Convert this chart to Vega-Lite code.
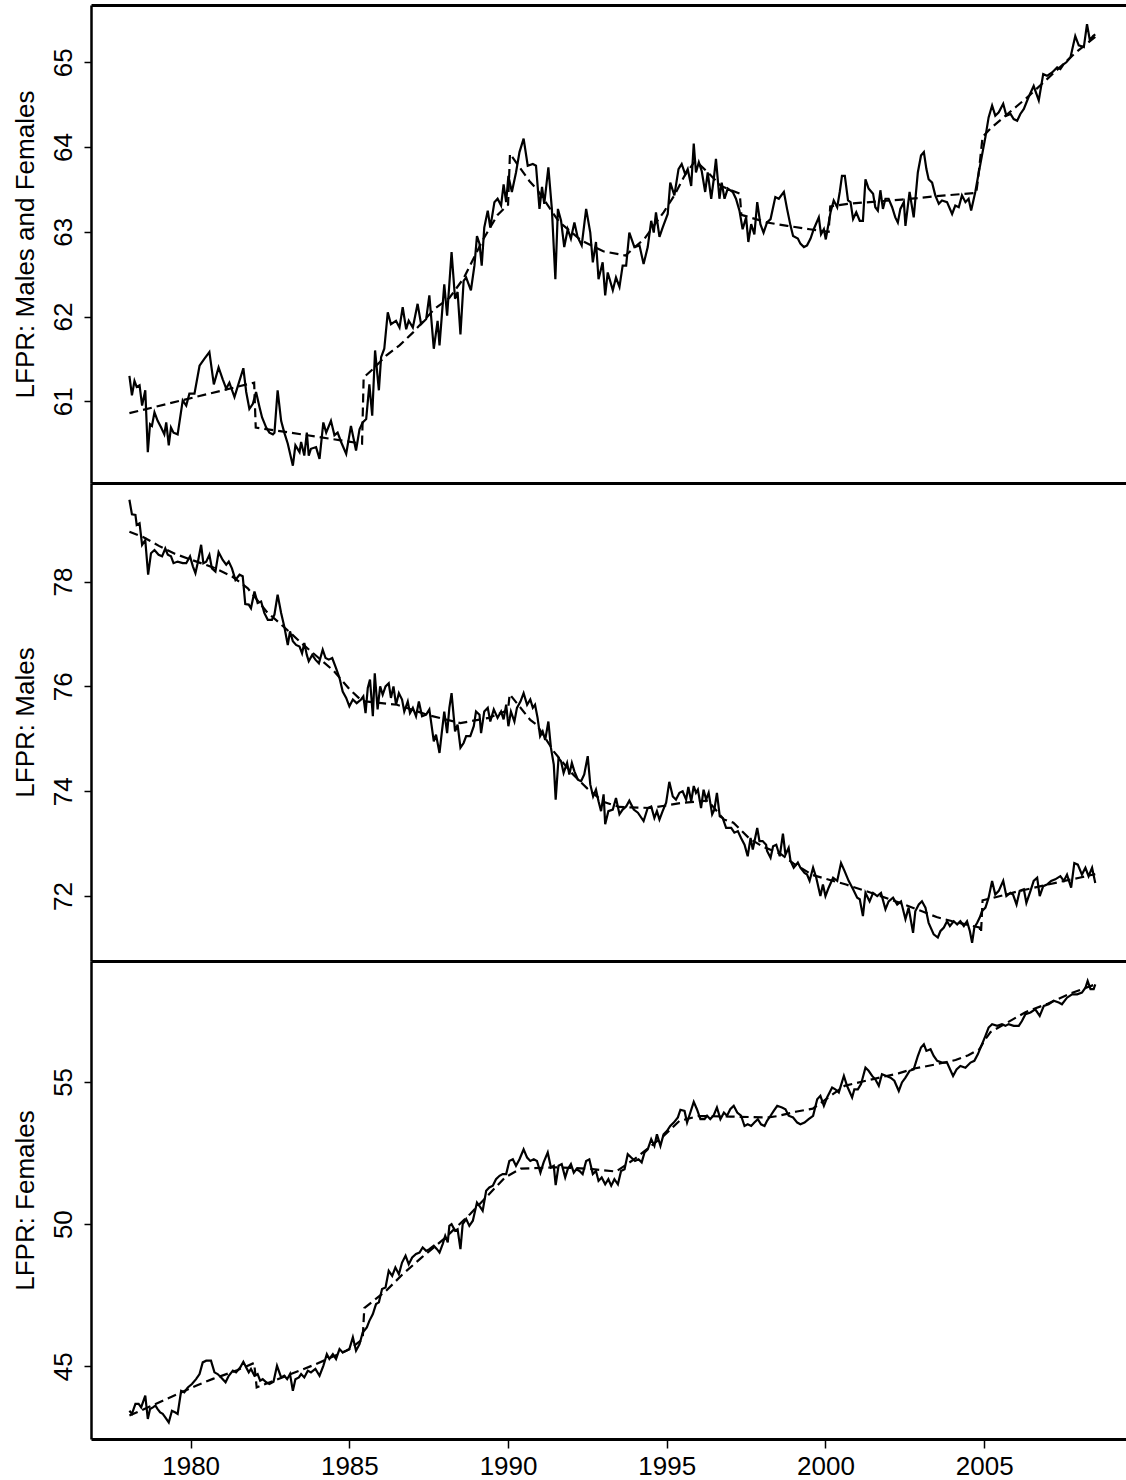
{
"$schema": "https://vega.github.io/schema/vega-lite/v6.json",
"background": "white",
"padding": {"left": 12, "top": 5, "right": 0, "bottom": 0},
"spacing": 0,
"bounds": "flush",
"config": {
 "view": {"stroke": null},
 "font": "Liberation Sans",
 "axis": {"domainColor": "#000", "domainWidth": 2.5, "tickColor": "#000", "tickWidth": 1.5, "labelColor": "#000", "labelFont": "Liberation Sans", "labelFontSize": 26, "titleFont": "Liberation Sans", "titleFontSize": 26, "titleFontWeight": "normal", "titleColor": "#000", "grid": false, "format": "d"},
 "axisY": {"labelAngle": -90, "labelAlign": "center", "labelBaseline": "alphabetic", "labelPadding": 13, "tickSize": 7, "titleAngle": -90, "titleX": -58, "titleBaseline": "alphabetic", "titleAlign": "center"},
 "axisX": {"tickSize": 9, "labelPadding": 5, "domainWidth": 3}
},
"datasets": {
"p1a": [
{"t":1978.07,"v":61.30},{"t":1978.15,"v":61.07},{"t":1978.23,"v":61.24},{"t":1978.30,"v":61.17},{"t":1978.39,"v":61.19},{"t":1978.47,"v":60.95},{"t":1978.57,"v":61.13},{"t":1978.65,"v":60.40},{"t":1978.72,"v":60.73},{"t":1978.78,"v":60.71},{"t":1978.86,"v":60.87},{"t":1978.96,"v":60.77},{"t":1979.07,"v":60.69},{"t":1979.17,"v":60.61},{"t":1979.23,"v":60.75},{"t":1979.31,"v":60.48},{"t":1979.38,"v":60.69},{"t":1979.46,"v":60.63},{"t":1979.59,"v":60.61},{"t":1979.75,"v":61.01},{"t":1979.86,"v":60.95},{"t":1979.96,"v":61.09},{"t":1980.12,"v":61.09},{"t":1980.28,"v":61.42},{"t":1980.43,"v":61.50},{"t":1980.59,"v":61.58},{"t":1980.73,"v":61.20},{"t":1980.88,"v":61.40},{"t":1981.01,"v":61.26},{"t":1981.12,"v":61.15},{"t":1981.22,"v":61.22},{"t":1981.38,"v":61.05},{"t":1981.52,"v":61.22},{"t":1981.66,"v":61.39},{"t":1981.75,"v":61.11},{"t":1981.85,"v":60.91},{"t":1981.96,"v":60.97},{"t":1982.06,"v":61.11},{"t":1982.17,"v":60.93},{"t":1982.25,"v":60.81},{"t":1982.38,"v":60.69},{"t":1982.48,"v":60.63},{"t":1982.59,"v":60.61},{"t":1982.64,"v":60.63},{"t":1982.74,"v":61.13},{"t":1982.85,"v":60.77},{"t":1982.95,"v":60.63},{"t":1983.06,"v":60.50},{"t":1983.22,"v":60.24},{"t":1983.30,"v":60.48},{"t":1983.43,"v":60.40},{"t":1983.48,"v":60.52},{"t":1983.58,"v":60.36},{"t":1983.66,"v":60.63},{"t":1983.72,"v":60.36},{"t":1983.79,"v":60.44},{"t":1983.95,"v":60.46},{"t":1984.06,"v":60.32},{"t":1984.18,"v":60.75},{"t":1984.27,"v":60.63},{"t":1984.42,"v":60.77},{"t":1984.53,"v":60.60},{"t":1984.63,"v":60.63},{"t":1984.74,"v":60.52},{"t":1984.90,"v":60.38},{"t":1985.05,"v":60.71},{"t":1985.21,"v":60.42},{"t":1985.32,"v":60.67},{"t":1985.42,"v":60.75},{"t":1985.53,"v":60.79},{"t":1985.63,"v":61.20},{"t":1985.72,"v":60.83},{"t":1985.81,"v":61.60},{"t":1985.93,"v":61.13},{"t":1986.00,"v":61.52},{"t":1986.10,"v":61.62},{"t":1986.21,"v":62.05},{"t":1986.31,"v":61.91},{"t":1986.47,"v":61.95},{"t":1986.58,"v":61.87},{"t":1986.68,"v":62.11},{"t":1986.79,"v":61.85},{"t":1986.87,"v":61.95},{"t":1987.00,"v":61.87},{"t":1987.15,"v":62.15},{"t":1987.26,"v":61.91},{"t":1987.42,"v":61.97},{"t":1987.52,"v":62.25},{"t":1987.66,"v":61.62},{"t":1987.78,"v":61.95},{"t":1987.84,"v":61.66},{"t":1987.99,"v":62.38},{"t":1988.08,"v":62.01},{"t":1988.22,"v":62.76},{"t":1988.33,"v":62.21},{"t":1988.41,"v":62.29},{"t":1988.50,"v":61.79},{"t":1988.60,"v":62.42},{"t":1988.68,"v":62.46},{"t":1988.83,"v":62.31},{"t":1988.94,"v":62.60},{"t":1989.02,"v":62.95},{"t":1989.10,"v":62.86},{"t":1989.17,"v":62.60},{"t":1989.25,"v":63.05},{"t":1989.36,"v":63.25},{"t":1989.44,"v":63.05},{"t":1989.57,"v":63.35},{"t":1989.67,"v":63.39},{"t":1989.78,"v":63.31},{"t":1989.86,"v":63.56},{"t":1989.94,"v":63.35},{"t":1990.01,"v":63.66},{"t":1990.12,"v":63.47},{"t":1990.25,"v":63.70},{"t":1990.36,"v":63.94},{"t":1990.49,"v":64.10},{"t":1990.62,"v":63.78},{"t":1990.78,"v":63.80},{"t":1990.88,"v":63.78},{"t":1990.99,"v":63.27},{"t":1991.07,"v":63.53},{"t":1991.14,"v":63.33},{"t":1991.27,"v":63.76},{"t":1991.38,"v":63.27},{"t":1991.49,"v":62.44},{"t":1991.57,"v":63.27},{"t":1991.67,"v":63.13},{"t":1991.77,"v":62.82},{"t":1991.88,"v":63.03},{"t":1991.98,"v":62.92},{"t":1992.09,"v":63.11},{"t":1992.19,"v":62.94},{"t":1992.32,"v":62.84},{"t":1992.46,"v":63.27},{"t":1992.59,"v":62.99},{"t":1992.67,"v":62.64},{"t":1992.77,"v":62.88},{"t":1992.85,"v":62.44},{"t":1992.98,"v":62.64},{"t":1993.06,"v":62.25},{"t":1993.14,"v":62.52},{"t":1993.30,"v":62.31},{"t":1993.40,"v":62.46},{"t":1993.51,"v":62.35},{"t":1993.61,"v":62.60},{"t":1993.72,"v":62.60},{"t":1993.82,"v":62.99},{"t":1993.98,"v":62.82},{"t":1994.14,"v":62.84},{"t":1994.27,"v":62.62},{"t":1994.40,"v":62.82},{"t":1994.51,"v":63.13},{"t":1994.59,"v":62.99},{"t":1994.66,"v":63.23},{"t":1994.77,"v":62.94},{"t":1994.87,"v":63.05},{"t":1995.03,"v":63.21},{"t":1995.11,"v":63.58},{"t":1995.24,"v":63.43},{"t":1995.37,"v":63.74},{"t":1995.47,"v":63.80},{"t":1995.58,"v":63.68},{"t":1995.66,"v":63.74},{"t":1995.77,"v":63.54},{"t":1995.85,"v":64.04},{"t":1995.92,"v":63.70},{"t":1996.01,"v":63.82},{"t":1996.10,"v":63.72},{"t":1996.21,"v":63.47},{"t":1996.29,"v":63.70},{"t":1996.40,"v":63.39},{"t":1996.48,"v":63.62},{"t":1996.55,"v":63.86},{"t":1996.66,"v":63.39},{"t":1996.73,"v":63.58},{"t":1996.82,"v":63.39},{"t":1996.92,"v":63.51},{"t":1997.08,"v":63.47},{"t":1997.18,"v":63.39},{"t":1997.29,"v":63.25},{"t":1997.39,"v":63.03},{"t":1997.50,"v":63.17},{"t":1997.57,"v":62.88},{"t":1997.66,"v":63.09},{"t":1997.76,"v":62.97},{"t":1997.85,"v":63.35},{"t":1997.95,"v":63.09},{"t":1998.05,"v":62.99},{"t":1998.16,"v":63.11},{"t":1998.27,"v":63.15},{"t":1998.42,"v":63.41},{"t":1998.53,"v":63.39},{"t":1998.69,"v":63.47},{"t":1998.79,"v":63.27},{"t":1998.90,"v":63.07},{"t":1998.98,"v":62.95},{"t":1999.13,"v":62.92},{"t":1999.21,"v":62.86},{"t":1999.32,"v":62.82},{"t":1999.42,"v":62.84},{"t":1999.53,"v":62.92},{"t":1999.63,"v":63.03},{"t":1999.79,"v":63.17},{"t":1999.86,"v":62.97},{"t":1999.95,"v":63.03},{"t":2000.01,"v":62.91},{"t":2000.16,"v":63.23},{"t":2000.26,"v":63.37},{"t":2000.37,"v":63.29},{"t":2000.45,"v":63.47},{"t":2000.52,"v":63.66},{"t":2000.61,"v":63.66},{"t":2000.71,"v":63.37},{"t":2000.79,"v":63.35},{"t":2000.87,"v":63.15},{"t":2000.97,"v":63.23},{"t":2001.08,"v":63.13},{"t":2001.18,"v":63.13},{"t":2001.26,"v":63.62},{"t":2001.36,"v":63.51},{"t":2001.50,"v":63.45},{"t":2001.57,"v":63.29},{"t":2001.65,"v":63.25},{"t":2001.73,"v":63.49},{"t":2001.81,"v":63.27},{"t":2001.89,"v":63.39},{"t":2001.99,"v":63.39},{"t":2002.10,"v":63.29},{"t":2002.20,"v":63.17},{"t":2002.28,"v":63.11},{"t":2002.36,"v":63.27},{"t":2002.47,"v":63.35},{"t":2002.52,"v":63.07},{"t":2002.65,"v":63.47},{"t":2002.78,"v":63.17},{"t":2002.91,"v":63.70},{"t":2003.01,"v":63.90},{"t":2003.10,"v":63.94},{"t":2003.18,"v":63.74},{"t":2003.25,"v":63.62},{"t":2003.36,"v":63.58},{"t":2003.46,"v":63.43},{"t":2003.57,"v":63.33},{"t":2003.67,"v":63.37},{"t":2003.83,"v":63.35},{"t":2003.99,"v":63.21},{"t":2004.09,"v":63.31},{"t":2004.20,"v":63.29},{"t":2004.30,"v":63.43},{"t":2004.41,"v":63.35},{"t":2004.51,"v":63.39},{"t":2004.59,"v":63.25},{"t":2004.72,"v":63.47},{"t":2004.83,"v":63.70},{"t":2004.93,"v":63.90},{"t":2005.04,"v":64.12},{"t":2005.14,"v":64.35},{"t":2005.25,"v":64.49},{"t":2005.35,"v":64.37},{"t":2005.46,"v":64.41},{"t":2005.60,"v":64.51},{"t":2005.70,"v":64.37},{"t":2005.83,"v":64.39},{"t":2005.93,"v":64.33},{"t":2006.04,"v":64.31},{"t":2006.14,"v":64.39},{"t":2006.25,"v":64.45},{"t":2006.40,"v":64.59},{"t":2006.56,"v":64.72},{"t":2006.72,"v":64.55},{"t":2006.86,"v":64.86},{"t":2006.98,"v":64.84},{"t":2007.14,"v":64.88},{"t":2007.30,"v":64.94},{"t":2007.40,"v":64.92},{"t":2007.51,"v":64.98},{"t":2007.59,"v":65.00},{"t":2007.72,"v":65.06},{"t":2007.87,"v":65.31},{"t":2007.98,"v":65.20},{"t":2008.14,"v":65.18},{"t":2008.24,"v":65.45},{"t":2008.33,"v":65.26},{"t":2008.43,"v":65.31},{"t":2008.50,"v":65.33}
],
"p1t": [
{"t":1978.07,"v":60.86},{"t":1982.0,"v":61.22},{"t":1982.05,"v":60.69},{"t":1983.5,"v":60.61},{"t":1985.4,"v":60.50},{"t":1985.45,"v":61.28},{"t":1985.74,"v":61.38},{"t":1986.16,"v":61.54},{"t":1986.58,"v":61.66},{"t":1987.0,"v":61.81},{"t":1987.68,"v":62.09},{"t":1988.15,"v":62.22},{"t":1988.6,"v":62.45},{"t":1989.2,"v":62.9},{"t":1989.67,"v":63.2},{"t":1990.0,"v":63.32},{"t":1990.06,"v":63.92},{"t":1990.67,"v":63.6},{"t":1990.93,"v":63.49},{"t":1991.6,"v":63.12},{"t":1992.3,"v":62.9},{"t":1993.0,"v":62.77},{"t":1993.7,"v":62.72},{"t":1994.3,"v":62.92},{"t":1994.9,"v":63.23},{"t":1995.24,"v":63.43},{"t":1995.56,"v":63.66},{"t":1995.9,"v":63.84},{"t":1996.3,"v":63.7},{"t":1996.71,"v":63.54},{"t":1997.3,"v":63.45},{"t":1997.35,"v":63.2},{"t":1998.16,"v":63.11},{"t":1998.8,"v":63.07},{"t":1999.5,"v":63.03},{"t":2000.1,"v":63.0},{"t":2000.15,"v":63.3},{"t":2000.7,"v":63.33},{"t":2002.4,"v":63.38},{"t":2003.5,"v":63.42},{"t":2004.75,"v":63.46},{"t":2004.8,"v":63.6},{"t":2004.95,"v":64.12},{"t":2005.2,"v":64.22},{"t":2006.4,"v":64.6},{"t":2007.9,"v":65.12},{"t":2008.5,"v":65.3}
],
"p2a": [
{"t":1978.07,"v":79.56},{"t":1978.15,"v":79.28},{"t":1978.26,"v":79.27},{"t":1978.30,"v":79.08},{"t":1978.39,"v":79.11},{"t":1978.47,"v":78.70},{"t":1978.57,"v":78.79},{"t":1978.66,"v":78.13},{"t":1978.75,"v":78.54},{"t":1978.86,"v":78.60},{"t":1978.99,"v":78.51},{"t":1979.10,"v":78.48},{"t":1979.20,"v":78.63},{"t":1979.28,"v":78.51},{"t":1979.38,"v":78.48},{"t":1979.46,"v":78.35},{"t":1979.59,"v":78.38},{"t":1979.75,"v":78.35},{"t":1979.86,"v":78.35},{"t":1979.98,"v":78.48},{"t":1980.07,"v":78.29},{"t":1980.15,"v":78.16},{"t":1980.22,"v":78.35},{"t":1980.33,"v":78.70},{"t":1980.40,"v":78.35},{"t":1980.49,"v":78.38},{"t":1980.59,"v":78.51},{"t":1980.67,"v":78.25},{"t":1980.78,"v":78.19},{"t":1980.88,"v":78.56},{"t":1981.01,"v":78.41},{"t":1981.12,"v":78.32},{"t":1981.20,"v":78.38},{"t":1981.30,"v":78.25},{"t":1981.41,"v":78.03},{"t":1981.54,"v":78.13},{"t":1981.64,"v":78.10},{"t":1981.72,"v":77.57},{"t":1981.83,"v":77.56},{"t":1981.90,"v":77.49},{"t":1982.01,"v":77.81},{"t":1982.11,"v":77.59},{"t":1982.22,"v":77.62},{"t":1982.32,"v":77.40},{"t":1982.43,"v":77.27},{"t":1982.56,"v":77.27},{"t":1982.64,"v":77.37},{"t":1982.74,"v":77.75},{"t":1982.85,"v":77.40},{"t":1982.95,"v":77.14},{"t":1983.06,"v":76.79},{"t":1983.13,"v":77.05},{"t":1983.22,"v":76.86},{"t":1983.32,"v":76.79},{"t":1983.43,"v":76.76},{"t":1983.51,"v":76.63},{"t":1983.58,"v":76.83},{"t":1983.66,"v":76.60},{"t":1983.72,"v":76.48},{"t":1983.83,"v":76.60},{"t":1983.93,"v":76.51},{"t":1984.04,"v":76.44},{"t":1984.16,"v":76.70},{"t":1984.25,"v":76.54},{"t":1984.35,"v":76.51},{"t":1984.46,"v":76.54},{"t":1984.58,"v":76.35},{"t":1984.69,"v":76.16},{"t":1984.79,"v":75.90},{"t":1984.90,"v":75.78},{"t":1985.00,"v":75.62},{"t":1985.11,"v":75.75},{"t":1985.23,"v":75.68},{"t":1985.37,"v":75.75},{"t":1985.44,"v":75.81},{"t":1985.51,"v":75.49},{"t":1985.58,"v":75.97},{"t":1985.65,"v":76.13},{"t":1985.74,"v":75.43},{"t":1985.80,"v":76.25},{"t":1985.89,"v":75.56},{"t":1985.97,"v":76.00},{"t":1986.05,"v":75.84},{"t":1986.14,"v":76.00},{"t":1986.24,"v":76.06},{"t":1986.31,"v":75.78},{"t":1986.39,"v":76.00},{"t":1986.47,"v":75.65},{"t":1986.56,"v":75.87},{"t":1986.66,"v":75.75},{"t":1986.73,"v":75.52},{"t":1986.84,"v":75.71},{"t":1986.91,"v":75.49},{"t":1987.00,"v":75.59},{"t":1987.10,"v":75.43},{"t":1987.19,"v":75.71},{"t":1987.29,"v":75.43},{"t":1987.42,"v":75.46},{"t":1987.52,"v":75.56},{"t":1987.66,"v":74.95},{"t":1987.73,"v":75.08},{"t":1987.84,"v":74.73},{"t":1987.91,"v":75.11},{"t":1987.99,"v":75.52},{"t":1988.08,"v":75.11},{"t":1988.15,"v":75.59},{"t":1988.22,"v":75.87},{"t":1988.33,"v":75.14},{"t":1988.41,"v":75.27},{"t":1988.50,"v":74.83},{"t":1988.60,"v":74.92},{"t":1988.68,"v":75.05},{"t":1988.81,"v":75.05},{"t":1988.92,"v":75.24},{"t":1988.99,"v":75.52},{"t":1989.10,"v":75.46},{"t":1989.15,"v":75.11},{"t":1989.25,"v":75.52},{"t":1989.36,"v":75.59},{"t":1989.44,"v":75.33},{"t":1989.55,"v":75.56},{"t":1989.67,"v":75.40},{"t":1989.78,"v":75.52},{"t":1989.86,"v":75.37},{"t":1989.94,"v":75.65},{"t":1990.01,"v":75.24},{"t":1990.09,"v":75.52},{"t":1990.20,"v":75.33},{"t":1990.28,"v":75.59},{"t":1990.39,"v":75.71},{"t":1990.49,"v":75.87},{"t":1990.60,"v":75.65},{"t":1990.70,"v":75.75},{"t":1990.78,"v":75.59},{"t":1990.85,"v":75.65},{"t":1990.93,"v":75.40},{"t":1991.01,"v":75.05},{"t":1991.09,"v":75.14},{"t":1991.17,"v":74.98},{"t":1991.27,"v":75.33},{"t":1991.35,"v":74.83},{"t":1991.44,"v":74.51},{"t":1991.50,"v":73.84},{"t":1991.59,"v":74.63},{"t":1991.67,"v":74.57},{"t":1991.75,"v":74.35},{"t":1991.86,"v":74.54},{"t":1991.93,"v":74.32},{"t":1992.01,"v":74.54},{"t":1992.09,"v":74.38},{"t":1992.20,"v":74.22},{"t":1992.30,"v":74.19},{"t":1992.40,"v":74.32},{"t":1992.51,"v":74.67},{"t":1992.59,"v":74.13},{"t":1992.68,"v":73.90},{"t":1992.77,"v":74.03},{"t":1992.85,"v":73.81},{"t":1992.93,"v":73.62},{"t":1993.01,"v":73.94},{"t":1993.06,"v":73.37},{"t":1993.16,"v":73.62},{"t":1993.30,"v":73.65},{"t":1993.40,"v":73.87},{"t":1993.51,"v":73.56},{"t":1993.61,"v":73.65},{"t":1993.72,"v":73.71},{"t":1993.82,"v":73.82},{"t":1993.96,"v":73.65},{"t":1994.09,"v":73.59},{"t":1994.27,"v":73.43},{"t":1994.40,"v":73.68},{"t":1994.51,"v":73.71},{"t":1994.61,"v":73.49},{"t":1994.69,"v":73.62},{"t":1994.77,"v":73.46},{"t":1994.87,"v":73.62},{"t":1994.98,"v":73.78},{"t":1995.08,"v":74.18},{"t":1995.19,"v":73.90},{"t":1995.29,"v":73.84},{"t":1995.40,"v":73.97},{"t":1995.50,"v":74.00},{"t":1995.61,"v":73.84},{"t":1995.68,"v":74.08},{"t":1995.77,"v":73.81},{"t":1995.85,"v":74.10},{"t":1995.92,"v":73.97},{"t":1995.98,"v":74.03},{"t":1996.08,"v":73.68},{"t":1996.16,"v":74.03},{"t":1996.24,"v":73.84},{"t":1996.32,"v":73.97},{"t":1996.43,"v":73.56},{"t":1996.50,"v":73.65},{"t":1996.58,"v":73.97},{"t":1996.67,"v":73.52},{"t":1996.76,"v":73.49},{"t":1996.87,"v":73.30},{"t":1997.03,"v":73.30},{"t":1997.13,"v":73.21},{"t":1997.24,"v":73.24},{"t":1997.34,"v":73.11},{"t":1997.45,"v":72.98},{"t":1997.55,"v":72.76},{"t":1997.64,"v":73.11},{"t":1997.71,"v":72.89},{"t":1997.85,"v":73.30},{"t":1997.92,"v":73.05},{"t":1998.02,"v":73.05},{"t":1998.13,"v":72.98},{"t":1998.16,"v":72.86},{"t":1998.27,"v":72.73},{"t":1998.35,"v":72.95},{"t":1998.45,"v":72.98},{"t":1998.56,"v":72.76},{"t":1998.66,"v":73.19},{"t":1998.74,"v":72.79},{"t":1998.84,"v":72.92},{"t":1998.90,"v":72.67},{"t":1999.00,"v":72.54},{"t":1999.13,"v":72.64},{"t":1999.21,"v":72.54},{"t":1999.34,"v":72.44},{"t":1999.42,"v":72.41},{"t":1999.50,"v":72.29},{"t":1999.61,"v":72.54},{"t":1999.71,"v":72.35},{"t":1999.84,"v":72.00},{"t":1999.92,"v":72.22},{"t":2000.00,"v":72.00},{"t":2000.10,"v":72.16},{"t":2000.24,"v":72.35},{"t":2000.37,"v":72.29},{"t":2000.49,"v":72.63},{"t":2000.60,"v":72.48},{"t":2000.73,"v":72.29},{"t":2000.87,"v":72.13},{"t":2001.00,"v":71.97},{"t":2001.08,"v":71.94},{"t":2001.18,"v":71.62},{"t":2001.26,"v":72.06},{"t":2001.39,"v":71.90},{"t":2001.50,"v":72.06},{"t":2001.63,"v":72.00},{"t":2001.75,"v":72.06},{"t":2001.89,"v":71.75},{"t":2001.99,"v":71.90},{"t":2002.13,"v":71.97},{"t":2002.26,"v":71.84},{"t":2002.38,"v":71.90},{"t":2002.52,"v":71.56},{"t":2002.62,"v":71.78},{"t":2002.76,"v":71.30},{"t":2002.83,"v":71.71},{"t":2002.94,"v":71.84},{"t":2003.04,"v":71.90},{"t":2003.15,"v":71.78},{"t":2003.25,"v":71.49},{"t":2003.41,"v":71.27},{"t":2003.54,"v":71.21},{"t":2003.62,"v":71.33},{"t":2003.73,"v":71.40},{"t":2003.83,"v":71.52},{"t":2003.92,"v":71.43},{"t":2004.04,"v":71.52},{"t":2004.15,"v":71.46},{"t":2004.25,"v":71.52},{"t":2004.36,"v":71.43},{"t":2004.46,"v":71.52},{"t":2004.55,"v":71.33},{"t":2004.62,"v":71.11},{"t":2004.69,"v":71.40},{"t":2004.78,"v":71.49},{"t":2004.86,"v":71.59},{"t":2004.93,"v":71.71},{"t":2005.04,"v":71.78},{"t":2005.14,"v":71.97},{"t":2005.25,"v":72.29},{"t":2005.35,"v":72.03},{"t":2005.46,"v":72.10},{"t":2005.60,"v":72.29},{"t":2005.70,"v":72.00},{"t":2005.83,"v":72.06},{"t":2005.91,"v":72.03},{"t":2006.02,"v":71.84},{"t":2006.12,"v":72.10},{"t":2006.25,"v":72.13},{"t":2006.33,"v":71.87},{"t":2006.46,"v":72.10},{"t":2006.56,"v":72.29},{"t":2006.67,"v":72.35},{"t":2006.75,"v":72.00},{"t":2006.86,"v":72.19},{"t":2006.98,"v":72.22},{"t":2007.11,"v":72.29},{"t":2007.24,"v":72.32},{"t":2007.40,"v":72.38},{"t":2007.51,"v":72.29},{"t":2007.61,"v":72.41},{"t":2007.74,"v":72.16},{"t":2007.84,"v":72.63},{"t":2007.95,"v":72.60},{"t":2008.08,"v":72.41},{"t":2008.19,"v":72.54},{"t":2008.29,"v":72.38},{"t":2008.40,"v":72.54},{"t":2008.50,"v":72.25}
],
"p2t": [
{"t":1978.07,"v":78.95},{"t":1978.5,"v":78.85},{"t":1979.0,"v":78.68},{"t":1979.5,"v":78.53},{"t":1980.0,"v":78.42},{"t":1980.7,"v":78.27},{"t":1981.3,"v":78.1},{"t":1981.8,"v":77.87},{"t":1982.4,"v":77.42},{"t":1983.0,"v":77.1},{"t":1983.5,"v":76.82},{"t":1984.0,"v":76.56},{"t":1984.5,"v":76.3},{"t":1985.0,"v":75.95},{"t":1985.4,"v":75.72},{"t":1986.5,"v":75.65},{"t":1987.5,"v":75.45},{"t":1988.5,"v":75.3},{"t":1989.4,"v":75.4},{"t":1990.0,"v":75.55},{"t":1990.05,"v":75.85},{"t":1990.7,"v":75.36},{"t":1990.9,"v":75.27},{"t":1991.45,"v":74.75},{"t":1992.0,"v":74.35},{"t":1992.5,"v":74.05},{"t":1993.0,"v":73.8},{"t":1993.5,"v":73.7},{"t":1994.5,"v":73.68},{"t":1995.5,"v":73.78},{"t":1996.3,"v":73.82},{"t":1996.8,"v":73.46},{"t":1997.1,"v":73.4},{"t":1997.6,"v":73.1},{"t":1998.0,"v":72.95},{"t":1998.6,"v":72.8},{"t":1999.0,"v":72.62},{"t":1999.6,"v":72.4},{"t":2000.65,"v":72.22},{"t":2001.5,"v":72.05},{"t":2002.3,"v":71.88},{"t":2003.0,"v":71.72},{"t":2003.5,"v":71.6},{"t":2004.0,"v":71.52},{"t":2004.5,"v":71.45},{"t":2004.85,"v":71.4},{"t":2004.9,"v":71.3},{"t":2004.95,"v":71.92},{"t":2005.25,"v":71.96},{"t":2006.0,"v":72.08},{"t":2007.0,"v":72.22},{"t":2008.0,"v":72.35},{"t":2008.5,"v":72.42}
],
"p3a": [
{"t":1978.07,"v":43.44},{"t":1978.15,"v":43.33},{"t":1978.26,"v":43.68},{"t":1978.36,"v":43.68},{"t":1978.44,"v":43.56},{"t":1978.57,"v":43.97},{"t":1978.65,"v":43.15},{"t":1978.72,"v":43.50},{"t":1978.81,"v":43.56},{"t":1978.89,"v":43.62},{"t":1978.96,"v":43.50},{"t":1979.04,"v":43.38},{"t":1979.12,"v":43.33},{"t":1979.20,"v":43.21},{"t":1979.31,"v":43.03},{"t":1979.41,"v":43.44},{"t":1979.52,"v":43.38},{"t":1979.59,"v":43.33},{"t":1979.70,"v":44.14},{"t":1979.80,"v":44.09},{"t":1979.91,"v":44.26},{"t":1980.04,"v":44.38},{"t":1980.17,"v":44.55},{"t":1980.28,"v":44.73},{"t":1980.38,"v":45.14},{"t":1980.49,"v":45.20},{"t":1980.64,"v":45.20},{"t":1980.75,"v":44.79},{"t":1980.85,"v":44.73},{"t":1980.96,"v":44.61},{"t":1981.10,"v":44.44},{"t":1981.20,"v":44.67},{"t":1981.33,"v":44.85},{"t":1981.43,"v":44.79},{"t":1981.56,"v":44.96},{"t":1981.66,"v":45.16},{"t":1981.75,"v":44.96},{"t":1981.83,"v":44.79},{"t":1981.90,"v":44.91},{"t":1982.01,"v":44.67},{"t":1982.11,"v":44.73},{"t":1982.19,"v":44.50},{"t":1982.27,"v":44.55},{"t":1982.38,"v":44.44},{"t":1982.48,"v":44.38},{"t":1982.61,"v":44.46},{"t":1982.72,"v":45.02},{"t":1982.85,"v":44.61},{"t":1982.95,"v":44.67},{"t":1983.04,"v":44.55},{"t":1983.13,"v":44.73},{"t":1983.22,"v":44.14},{"t":1983.30,"v":44.55},{"t":1983.41,"v":44.61},{"t":1983.48,"v":44.73},{"t":1983.58,"v":44.61},{"t":1983.69,"v":44.85},{"t":1983.79,"v":44.79},{"t":1983.93,"v":44.91},{"t":1984.06,"v":44.67},{"t":1984.18,"v":45.02},{"t":1984.29,"v":45.43},{"t":1984.37,"v":45.26},{"t":1984.48,"v":45.43},{"t":1984.58,"v":45.26},{"t":1984.69,"v":45.61},{"t":1984.79,"v":45.49},{"t":1984.90,"v":45.55},{"t":1985.00,"v":45.61},{"t":1985.11,"v":46.02},{"t":1985.21,"v":45.55},{"t":1985.32,"v":45.78},{"t":1985.42,"v":46.19},{"t":1985.55,"v":46.37},{"t":1985.63,"v":46.60},{"t":1985.74,"v":46.84},{"t":1985.84,"v":47.19},{"t":1985.93,"v":47.25},{"t":1986.03,"v":47.72},{"t":1986.14,"v":47.77},{"t":1986.24,"v":48.36},{"t":1986.35,"v":48.18},{"t":1986.45,"v":48.48},{"t":1986.56,"v":48.24},{"t":1986.66,"v":48.65},{"t":1986.77,"v":48.89},{"t":1986.87,"v":48.59},{"t":1986.98,"v":48.83},{"t":1987.10,"v":48.95},{"t":1987.21,"v":49.00},{"t":1987.31,"v":49.18},{"t":1987.42,"v":49.06},{"t":1987.52,"v":49.12},{"t":1987.66,"v":49.24},{"t":1987.76,"v":49.12},{"t":1987.84,"v":49.00},{"t":1987.94,"v":49.30},{"t":1988.02,"v":49.59},{"t":1988.10,"v":49.36},{"t":1988.15,"v":49.94},{"t":1988.22,"v":50.00},{"t":1988.33,"v":49.77},{"t":1988.41,"v":49.82},{"t":1988.50,"v":49.12},{"t":1988.57,"v":50.00},{"t":1988.68,"v":50.18},{"t":1988.78,"v":49.94},{"t":1988.89,"v":50.12},{"t":1989.02,"v":50.76},{"t":1989.13,"v":50.59},{"t":1989.20,"v":50.47},{"t":1989.31,"v":51.17},{"t":1989.41,"v":51.29},{"t":1989.52,"v":51.35},{"t":1989.62,"v":51.58},{"t":1989.73,"v":51.70},{"t":1989.83,"v":51.76},{"t":1989.94,"v":51.76},{"t":1990.04,"v":52.22},{"t":1990.15,"v":52.28},{"t":1990.25,"v":52.05},{"t":1990.36,"v":52.28},{"t":1990.49,"v":52.63},{"t":1990.60,"v":52.34},{"t":1990.70,"v":52.22},{"t":1990.81,"v":52.28},{"t":1990.91,"v":52.22},{"t":1991.02,"v":51.81},{"t":1991.12,"v":52.17},{"t":1991.25,"v":52.52},{"t":1991.35,"v":51.99},{"t":1991.44,"v":52.05},{"t":1991.50,"v":51.37},{"t":1991.59,"v":52.05},{"t":1991.69,"v":52.11},{"t":1991.80,"v":51.64},{"t":1991.88,"v":51.93},{"t":1991.98,"v":52.11},{"t":1992.07,"v":51.81},{"t":1992.15,"v":51.93},{"t":1992.25,"v":51.87},{"t":1992.35,"v":51.76},{"t":1992.46,"v":52.22},{"t":1992.56,"v":52.28},{"t":1992.67,"v":51.76},{"t":1992.77,"v":51.87},{"t":1992.85,"v":51.52},{"t":1992.95,"v":51.64},{"t":1993.06,"v":51.40},{"t":1993.16,"v":51.58},{"t":1993.25,"v":51.35},{"t":1993.35,"v":51.58},{"t":1993.46,"v":51.40},{"t":1993.56,"v":51.87},{"t":1993.67,"v":51.93},{"t":1993.77,"v":52.46},{"t":1993.88,"v":52.34},{"t":1994.00,"v":52.22},{"t":1994.11,"v":52.28},{"t":1994.21,"v":52.17},{"t":1994.30,"v":52.52},{"t":1994.40,"v":52.63},{"t":1994.51,"v":52.99},{"t":1994.61,"v":52.75},{"t":1994.69,"v":53.16},{"t":1994.80,"v":52.75},{"t":1994.90,"v":53.16},{"t":1995.01,"v":53.28},{"t":1995.11,"v":53.45},{"t":1995.22,"v":53.57},{"t":1995.35,"v":53.75},{"t":1995.43,"v":54.02},{"t":1995.56,"v":53.98},{"t":1995.64,"v":53.57},{"t":1995.71,"v":53.81},{"t":1995.85,"v":54.30},{"t":1995.95,"v":54.04},{"t":1996.06,"v":53.69},{"t":1996.19,"v":53.69},{"t":1996.27,"v":53.81},{"t":1996.37,"v":53.69},{"t":1996.48,"v":53.83},{"t":1996.58,"v":54.10},{"t":1996.69,"v":53.69},{"t":1996.80,"v":53.92},{"t":1996.90,"v":53.81},{"t":1997.00,"v":54.04},{"t":1997.11,"v":54.16},{"t":1997.22,"v":53.92},{"t":1997.34,"v":53.81},{"t":1997.45,"v":53.45},{"t":1997.55,"v":53.51},{"t":1997.66,"v":53.45},{"t":1997.76,"v":53.57},{"t":1997.87,"v":53.69},{"t":1997.97,"v":53.51},{"t":1998.08,"v":53.45},{"t":1998.16,"v":53.63},{"t":1998.27,"v":53.81},{"t":1998.37,"v":53.98},{"t":1998.48,"v":54.16},{"t":1998.63,"v":54.10},{"t":1998.74,"v":54.04},{"t":1998.84,"v":53.81},{"t":1998.98,"v":53.75},{"t":1999.11,"v":53.57},{"t":1999.21,"v":53.51},{"t":1999.34,"v":53.57},{"t":1999.47,"v":53.69},{"t":1999.61,"v":53.81},{"t":1999.74,"v":54.39},{"t":1999.84,"v":54.51},{"t":1999.95,"v":54.16},{"t":2000.05,"v":54.45},{"t":2000.21,"v":54.80},{"t":2000.31,"v":54.74},{"t":2000.42,"v":54.63},{"t":2000.58,"v":55.21},{"t":2000.68,"v":54.86},{"t":2000.84,"v":54.45},{"t":2000.91,"v":54.74},{"t":2001.02,"v":54.74},{"t":2001.12,"v":54.92},{"t":2001.26,"v":55.50},{"t":2001.36,"v":55.39},{"t":2001.47,"v":55.21},{"t":2001.57,"v":55.09},{"t":2001.68,"v":54.86},{"t":2001.78,"v":55.27},{"t":2001.92,"v":55.21},{"t":2002.05,"v":55.15},{"t":2002.17,"v":55.04},{"t":2002.31,"v":54.68},{"t":2002.41,"v":54.98},{"t":2002.52,"v":55.15},{"t":2002.65,"v":55.39},{"t":2002.78,"v":55.44},{"t":2002.91,"v":55.91},{"t":2003.01,"v":56.21},{"t":2003.10,"v":56.32},{"t":2003.18,"v":56.09},{"t":2003.31,"v":56.15},{"t":2003.41,"v":55.91},{"t":2003.52,"v":55.74},{"t":2003.67,"v":55.68},{"t":2003.83,"v":55.68},{"t":2004.02,"v":55.21},{"t":2004.13,"v":55.44},{"t":2004.25,"v":55.56},{"t":2004.41,"v":55.50},{"t":2004.57,"v":55.68},{"t":2004.69,"v":55.74},{"t":2004.80,"v":55.97},{"t":2004.93,"v":56.32},{"t":2005.04,"v":56.62},{"t":2005.14,"v":56.91},{"t":2005.25,"v":57.03},{"t":2005.41,"v":56.97},{"t":2005.56,"v":57.03},{"t":2005.67,"v":56.97},{"t":2005.77,"v":57.03},{"t":2005.93,"v":56.97},{"t":2006.09,"v":56.97},{"t":2006.19,"v":57.14},{"t":2006.30,"v":57.38},{"t":2006.46,"v":57.44},{"t":2006.61,"v":57.55},{"t":2006.75,"v":57.32},{"t":2006.88,"v":57.67},{"t":2007.03,"v":57.73},{"t":2007.19,"v":57.85},{"t":2007.35,"v":57.79},{"t":2007.45,"v":57.73},{"t":2007.61,"v":57.96},{"t":2007.77,"v":58.08},{"t":2007.93,"v":58.08},{"t":2008.08,"v":58.14},{"t":2008.19,"v":58.31},{"t":2008.26,"v":58.55},{"t":2008.35,"v":58.26},{"t":2008.45,"v":58.26},{"t":2008.50,"v":58.43}
],
"p3t": [
{"t":1978.07,"v":43.27},{"t":1979.12,"v":43.79},{"t":1980.17,"v":44.32},{"t":1980.7,"v":44.56},{"t":1981.43,"v":44.85},{"t":1982.0,"v":45.12},{"t":1982.08,"v":44.26},{"t":1983.43,"v":44.85},{"t":1983.95,"v":45.08},{"t":1985.0,"v":45.6},{"t":1985.42,"v":45.96},{"t":1985.47,"v":47.05},{"t":1986.16,"v":47.66},{"t":1986.68,"v":48.24},{"t":1987.3,"v":48.85},{"t":1988.0,"v":49.5},{"t":1988.8,"v":50.35},{"t":1989.4,"v":51.05},{"t":1989.9,"v":51.64},{"t":1990.4,"v":51.95},{"t":1991.5,"v":52.0},{"t":1992.5,"v":51.95},{"t":1993.4,"v":51.85},{"t":1994.0,"v":52.3},{"t":1994.9,"v":53.1},{"t":1995.4,"v":53.63},{"t":1996.0,"v":53.8},{"t":1997.0,"v":53.78},{"t":1998.2,"v":53.75},{"t":1998.5,"v":53.8},{"t":1999.1,"v":53.96},{"t":1999.6,"v":54.06},{"t":2000.6,"v":54.86},{"t":2001.5,"v":55.1},{"t":2002.3,"v":55.3},{"t":2002.8,"v":55.47},{"t":2003.5,"v":55.62},{"t":2004.1,"v":55.77},{"t":2004.5,"v":55.94},{"t":2004.85,"v":56.15},{"t":2005.0,"v":56.44},{"t":2005.2,"v":56.75},{"t":2006.3,"v":57.45},{"t":2007.0,"v":57.75},{"t":2007.7,"v":58.1},{"t":2008.5,"v":58.43}
]
},
"vconcat": [
{
 "width": 1036, "height": 478,
 "layer": [
  {"data": {"name": "p1a"}, "mark": {"type": "line", "color": "black", "strokeWidth": 2.2},
   "encoding": {
    "x": {"field": "t", "type": "quantitative", "scale": {"domain": [1976.86, 2009.5], "nice": false, "zero": false}, "axis": {"orient": "top", "labels": false, "ticks": false, "title": null, "domainWidth": 3}},
    "y": {"field": "v", "type": "quantitative", "scale": {"domain": [60.036, 65.676], "nice": false, "zero": false}, "axis": {"values": [61, 62, 63, 64, 65], "format": "d", "title": "LFPR: Males and Females"}}
   }},
  {"data": {"name": "p1t"}, "mark": {"type": "line", "color": "black", "strokeWidth": 2.2, "strokeDash": [9, 5]},
   "encoding": {
    "x": {"field": "t", "type": "quantitative", "axis": {"orient": "bottom", "labels": false, "ticks": false, "title": null}},
    "y": {"field": "v", "type": "quantitative"}
   }}
 ],
 "resolve": {"axis": {"x": "independent"}}
},
{
 "width": 1036, "height": 478,
 "layer": [
  {"data": {"name": "p2a"}, "mark": {"type": "line", "color": "black", "strokeWidth": 2.2},
   "encoding": {
    "x": {"field": "t", "type": "quantitative", "scale": {"domain": [1976.86, 2009.5], "nice": false, "zero": false}, "axis": {"labels": false, "ticks": false, "title": null}},
    "y": {"field": "v", "type": "quantitative", "scale": {"domain": [70.762, 79.879], "nice": false, "zero": false}, "axis": {"values": [72, 74, 76, 78], "format": "d", "title": "LFPR: Males"}}
   }},
  {"data": {"name": "p2t"}, "mark": {"type": "line", "color": "black", "strokeWidth": 2.2, "strokeDash": [9, 5]},
   "encoding": {
    "x": {"field": "t", "type": "quantitative"},
    "y": {"field": "v", "type": "quantitative"}
   }}
 ]
},
{
 "width": 1036, "height": 478,
 "layer": [
  {"data": {"name": "p3a"}, "mark": {"type": "line", "color": "black", "strokeWidth": 2.2},
   "encoding": {
    "x": {"field": "t", "type": "quantitative", "scale": {"domain": [1976.86, 2009.5], "nice": false, "zero": false}, "axis": {"values": [1980, 1985, 1990, 1995, 2000, 2005], "format": "d", "title": null}},
    "y": {"field": "v", "type": "quantitative", "scale": {"domain": [42.447, 59.25], "nice": false, "zero": false}, "axis": {"values": [45, 50, 55], "format": "d", "title": "LFPR: Females"}}
   }},
  {"data": {"name": "p3t"}, "mark": {"type": "line", "color": "black", "strokeWidth": 2.2, "strokeDash": [9, 5]},
   "encoding": {
    "x": {"field": "t", "type": "quantitative"},
    "y": {"field": "v", "type": "quantitative"}
   }}
 ]
}
]
}
